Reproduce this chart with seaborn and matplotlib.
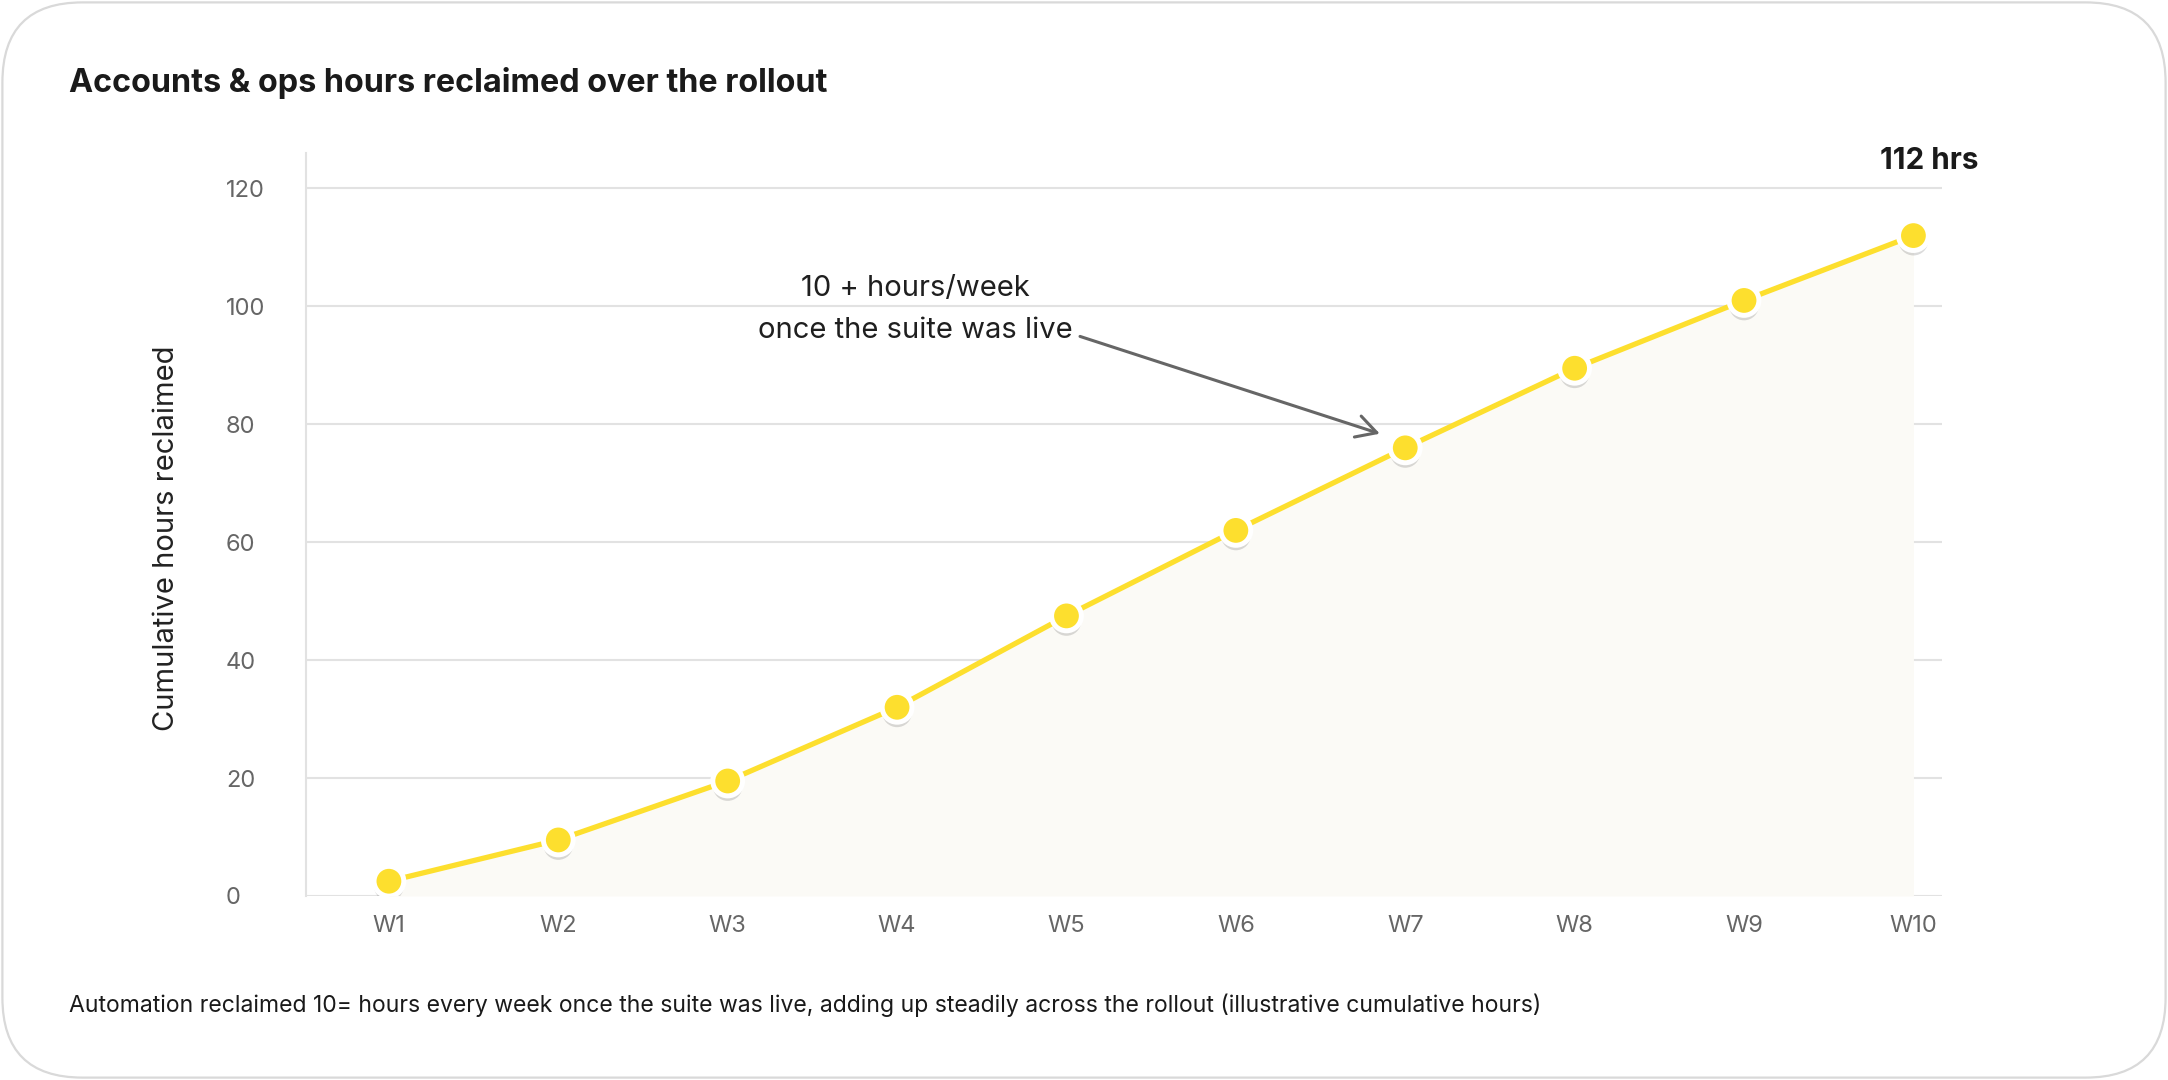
import numpy as np
import seaborn as sns
import matplotlib
matplotlib.use("Agg")
from matplotlib import pyplot as plt
from matplotlib.patches import FancyBboxPatch
import matplotlib.patheffects as pe

weeks = ["W1", "W2", "W3", "W4", "W5", "W6", "W7", "W8", "W9", "W10"]
hours = [2.5, 9.5, 19.5, 32, 47.5, 62, 76, 89.5, 101, 112]
y_ticks = [0, 20, 40, 60, 80, 100, 120]

title = "Accounts & ops hours reclaimed over the rollout"
y_label = "Cumulative hours reclaimed"
note_lines = ["10 + hours/week", "once the suite was live"]
caption = ("Automation reclaimed 10= hours every week once the suite was live, "
           "adding up steadily across the rollout (illustrative cumulative hours)")

sns.set_theme(style="white")
plt.rcParams["font.family"] = ["Inter", "DejaVu Sans"]

yellow = "#FDDF2E"
grid_c = "#e2e2e2"

fig = plt.figure(figsize=(10.84, 5.4), dpi=200)
fig.patch.set_facecolor("white")

# rounded card outline
card = FancyBboxPatch((0.012, 0.012), 10.816, 5.376,
                      boxstyle="round,pad=0,rounding_size=0.4",
                      transform=fig.dpi_scale_trans, facecolor="none",
                      edgecolor="#d9d9d9", linewidth=0.8, zorder=-1)
fig.patches.append(card)

ax = fig.add_axes([0.1411, 0.1704, 0.7546, 0.6879])
ax.set_facecolor("none")

x = np.arange(len(weeks))
ax.fill_between(x, 0, hours, color="#fbfaf6", zorder=1, linewidth=0)
sns.lineplot(x=x, y=hours, ax=ax, color=yellow, linewidth=1.9, zorder=3)
sns.scatterplot(x=x, y=hours, ax=ax, color=yellow, s=115, edgecolor="white",
                linewidth=1.8, zorder=4,
                path_effects=[pe.withSimplePatchShadow(offset=(0, -1.8),
                                                       shadow_rgbFace="#000000",
                                                       alpha=0.14)])

ax.set_xlim(-0.49, 9.168)
ax.set_ylim(0, 126)
ax.set_xticks(x)
ax.set_xticklabels(weeks)
ax.set_yticks(y_ticks)
ax.grid(axis="y", color=grid_c, linewidth=0.75, zorder=0)
ax.set_axisbelow(True)
for s in ["top", "right", "bottom"]:
    ax.spines[s].set_visible(False)
ax.spines["left"].set_color(grid_c)
ax.spines["left"].set_linewidth(0.75)

ax.tick_params(axis="y", length=2.2, width=0.75, color=grid_c, pad=26.6,
               labelsize=8.5, labelcolor="#666666")
ax.tick_params(axis="x", length=0, pad=6.8, labelsize=8.5, labelcolor="#666666")
for lab in ax.get_yticklabels():
    lab.set_horizontalalignment("left")
ax.set_xlabel("")
ax.set_ylabel("")

fig.text(167 / 2168, 1 - 538 / 1080, y_label, rotation=90, ha="center",
         va="center", fontsize=10.5, color="#222222")

fig.text(69 / 2168, 1 - 92 / 1080, title, ha="left", va="baseline",
         fontsize=11.65, fontweight="bold", color="#1a1a1a")

ax.annotate(f"{hours[-1]:.0f} hrs", xy=(x[-1], hours[-1]), xytext=(5.6, 23.8),
            textcoords="offset points", ha="center", va="baseline",
            fontsize=10.7, fontweight="bold", color="#1a1a1a")

# annotation text + arrow toward W7
ax.text(3.11, 101.8, note_lines[0], ha="center", va="baseline",
        fontsize=10.5, color="#1f1f1f")
ax.text(3.11, 94.7, note_lines[1], ha="center", va="baseline",
        fontsize=10.5, color="#1f1f1f")
ax.annotate("", xy=(5.85, 78.4), xytext=(4.08, 94.9),
            arrowprops=dict(arrowstyle="->,head_length=0.6,head_width=0.33",
                            color="#666666", lw=1.1, shrinkA=0, shrinkB=0))

fig.text(69 / 2168, 1 - 1012 / 1080, caption, ha="left", va="baseline",
         fontsize=8.28, color="#1a1a1a")

fig.savefig("out.png", dpi=200, facecolor="white")
